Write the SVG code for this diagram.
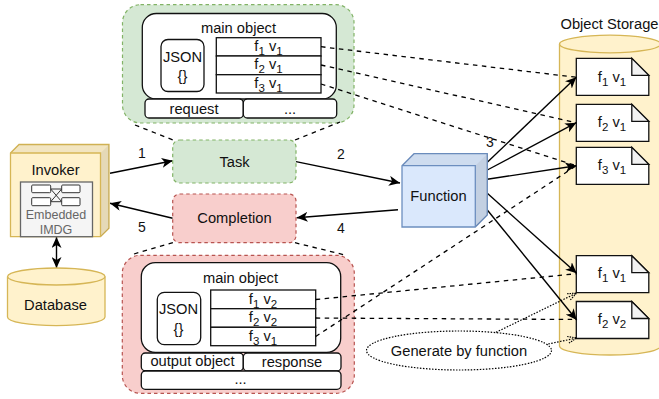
<svg xmlns="http://www.w3.org/2000/svg" width="659" height="399" viewBox="0 0 659 399">
<style>
text{font-family:"Liberation Sans",Arial,sans-serif;font-size:14.700px;fill:#111;text-anchor:middle}
.s{font-size:11.500px}
.w{fill:#fff;stroke:#111;stroke-width:1.300}
.g{fill:#d5e8d4;stroke:#82b366;stroke-width:1.200;stroke-dasharray:3.500 3}
.r{fill:#f8cecc;stroke:#b85450;stroke-width:1.200;stroke-dasharray:3.500 3}
.y{fill:#fff2cc;stroke:#d6b656;stroke-width:1.300}
.b{fill:#dae8fc;stroke:#6c8ebf;stroke-width:1.300}
.a{fill:none;stroke:#000;stroke-width:1.400;marker-end:url(#arrow)}
.d{fill:none;stroke:#000;stroke-width:1.300;stroke-dasharray:4.500 4.500}
.o{fill:none;stroke:#000;stroke-width:1.200;stroke-dasharray:1.500 1.500}
.f{fill:#000;fill-opacity:.05}
.k{fill:#000;fill-opacity:.1}
.c{fill:#f2f2f2;stroke:#111;stroke-width:1.300}
.i{fill:#fff;stroke:#333;stroke-width:1}
.n{font-size:14px}
.e{font-size:12.500px;fill:#666}
</style>
<defs>
<marker id="arrow" viewBox="0 0 12 10" refX="11" refY="5" markerWidth="12" markerHeight="10" markerUnits="userSpaceOnUse" orient="auto-start-reverse"><path d="M0,0L11,5L0,10L3,5Z" fill="#000"/></marker>
<marker id="open" viewBox="0 0 10 10" refX="9" refY="5" markerWidth="10" markerHeight="10" markerUnits="userSpaceOnUse" orient="auto"><path d="M0,1.500L9,5L0,8.500" fill="none" stroke="#000" stroke-width="1.100" stroke-dasharray="1.500 1"/></marker>
<path id="doc" d="M0,0H55.500L72.500,17V37H0Z"/>
</defs>
<g id="object-storage">
<path class="y" d="M559.500,44V346C559.500,351 582,355 610,355C638,355 660.500,351 660.500,346V44"/>
<ellipse class="y" cx="610" cy="44" rx="50.500" ry="8.800"/>
<text x="609.500" y="28.500">Object Storage</text>
</g>
<g id="panel-task">
<rect class="g" x="122.500" y="4.700" width="231.500" height="118.300" rx="18"/>
<rect class="w" x="142.300" y="13.500" width="194" height="85.500" rx="14"/>
<text x="238.500" y="33">main object</text>
<rect class="w" x="161" y="39.500" width="43" height="52" rx="7"/>
<text x="182.500" y="61.500">JSON</text><text x="182.500" y="80.500">{}</text>
<rect class="w" x="216.300" y="37.700" width="104.700" height="18.300"/>
<rect class="w" x="216.300" y="56" width="104.700" height="18.700"/>
<rect class="w" x="216.300" y="74.700" width="104.700" height="18.300"/>
<text x="268.500" y="50.500">f<tspan class="s" dy="4">1</tspan><tspan dy="-4"> v</tspan><tspan class="s" dy="4">1</tspan></text>
<text x="268.500" y="69">f<tspan class="s" dy="4">2</tspan><tspan dy="-4"> v</tspan><tspan class="s" dy="4">1</tspan></text>
<text x="268.500" y="87.500">f<tspan class="s" dy="4">3</tspan><tspan dy="-4"> v</tspan><tspan class="s" dy="4">1</tspan></text>
<rect class="w" x="145" y="99" width="98.300" height="19" rx="4"/>
<rect class="w" x="243.300" y="99" width="93.400" height="19" rx="4"/>
<text x="194" y="114">request</text><text x="290" y="114">...</text>
</g>
<g id="panel-completion">
<rect class="r" x="122.300" y="255.300" width="232" height="138" rx="18"/>
<rect class="w" x="141.300" y="262.700" width="199.400" height="89.600" rx="14"/>
<text x="240.500" y="282.500">main object</text>
<rect class="w" x="157.300" y="292.300" width="43.400" height="52.400" rx="7"/>
<text x="178.500" y="314">JSON</text><text x="178.500" y="333.500">{}</text>
<rect class="w" x="210.700" y="290" width="105" height="18.700"/>
<rect class="w" x="210.700" y="308.700" width="105" height="18.600"/>
<rect class="w" x="210.700" y="327.300" width="105" height="18.400"/>
<text x="263" y="303.500">f<tspan class="s" dy="4">1</tspan><tspan dy="-4"> v</tspan><tspan class="s" dy="4">2</tspan></text>
<text x="263" y="322">f<tspan class="s" dy="4">2</tspan><tspan dy="-4"> v</tspan><tspan class="s" dy="4">2</tspan></text>
<text x="263" y="340.500">f<tspan class="s" dy="4">3</tspan><tspan dy="-4"> v</tspan><tspan class="s" dy="4">1</tspan></text>
<rect class="w" x="141.300" y="353" width="102" height="17.700" rx="4"/>
<rect class="w" x="243.300" y="353" width="97.700" height="18" rx="4"/>
<rect class="w" x="141.300" y="371" width="199.700" height="18.300" rx="4"/>
<text x="192.500" y="366">output object</text><text x="292" y="367">response</text><text x="240.500" y="384">...</text>
</g>
<g id="doc-1"><use href="#doc" x="576.300" y="58.300" class="w"/><path class="c" d="M631.800,58.300V75.300H648.800Z"/><text x="612" y="81.500">f<tspan class="s" dy="4">1</tspan><tspan dy="-4"> v</tspan><tspan class="s" dy="4">1</tspan></text></g>
<g id="doc-2"><use href="#doc" x="576.300" y="104.300" class="w"/><path class="c" d="M631.800,104.300V121.300H648.800Z"/><text x="612" y="127">f<tspan class="s" dy="4">2</tspan><tspan dy="-4"> v</tspan><tspan class="s" dy="4">1</tspan></text></g>
<g id="doc-3"><use href="#doc" x="576.300" y="147.300" class="w"/><path class="c" d="M631.800,147.300V164.300H648.800Z"/><text x="612" y="170">f<tspan class="s" dy="4">3</tspan><tspan dy="-4"> v</tspan><tspan class="s" dy="4">1</tspan></text></g>
<g id="doc-4"><use href="#doc" x="576.300" y="255.700" class="w"/><path class="c" d="M631.800,255.700V272.700H648.800Z"/><text x="612" y="278">f<tspan class="s" dy="4">1</tspan><tspan dy="-4"> v</tspan><tspan class="s" dy="4">1</tspan></text></g>
<g id="doc-5"><use href="#doc" x="576.300" y="301.500" class="w"/><path class="c" d="M631.800,301.500V318.500H648.800Z"/><text x="612" y="323.500">f<tspan class="s" dy="4">2</tspan><tspan dy="-4"> v</tspan><tspan class="s" dy="4">2</tspan></text></g>
<g id="connectors">
<path class="d" d="M135,125L173,140M295,140L340,122M134,254L173,242.700M295,242.700L345,255"/>
<path class="d" d="M321,46.700L576.300,77.300M321,65L576.300,122.700M321,84L576.300,165.700"/>
<path class="d" d="M315.700,299.500L576.700,273.700M315.700,318L576.700,319.500M315.700,336.500L576.300,165.700"/>
<path class="a" d="M110,173.300L172.700,160.700"/>
<path class="a" d="M172.700,218.300L110,203.300"/>
<path class="a" d="M296,161.600L400,183"/>
<path class="a" d="M398,209.700L296.700,217.700"/>
<path class="a" d="M56.500,237L56.500,268" style="marker-start:url(#arrow)"/>
<path class="a" d="M487.300,162.300L576.300,77.300"/>
<path class="a" d="M487.300,170L576.300,122.700"/>
<path class="a" d="M487.300,179.300L576.300,165.700"/>
<path class="a" d="M487.300,193.300L576.700,273.300"/>
<path class="a" d="M487.300,210L576.700,320"/>
<path class="o" style="marker-end:url(#open)" d="M496,332.300L576.700,293"/>
<path class="o" style="marker-end:url(#open)" d="M548.300,344L576.700,338"/>
</g>
<g id="invoker">
<path class="y" d="M10.500,153L19,144.500H109V228.200L100.500,236.700H10.500Z"/>
<path class="f" d="M10.500,153L19,144.500H109L100.500,153Z"/>
<path class="k" d="M100.500,153L109,144.500V228.200L100.500,236.700Z"/>
<path d="M10.500,153H100.500V236.700" fill="none" stroke="#d6b656" stroke-width="1.300"/>
<text x="55.500" y="175">Invoker</text>
<rect x="20.500" y="182" width="72" height="54.700" fill="#f5f5f5" stroke="#666" stroke-width="1.300"/>
<path d="M50.700,189H61.700L50.700,201.700H61.700M50.700,189L61.700,201.700" fill="none" stroke="#333" stroke-width="1"/>
<rect class="i" x="31.700" y="185" width="19" height="7.700" rx="1"/>
<rect class="i" x="61.700" y="185" width="18.300" height="7.700" rx="1"/>
<rect class="i" x="31.700" y="197.700" width="19" height="8" rx="1"/>
<rect class="i" x="61.700" y="197.700" width="18.300" height="8" rx="1"/>
<text x="56" y="218.500" class="e">Embedded</text>
<text x="56" y="234" class="e">IMDG</text>
</g>
<g id="database">
<path class="y" d="M7.500,276.500V317C7.500,322 29,325.700 56.300,325.700C83.500,325.700 105,322 105,317V276.500"/>
<ellipse class="y" cx="56.300" cy="276.500" rx="48.700" ry="8.500"/>
<text x="55.500" y="309.500">Database</text>
</g>
<g id="task"><rect class="g" x="172.700" y="140" width="123.300" height="43" rx="7"/><text x="234.500" y="166.500">Task</text></g>
<g id="completion"><rect class="r" x="172.700" y="194" width="123.300" height="48.700" rx="7"/><text x="234.500" y="223">Completion</text></g>
<g id="function">
<path class="b" d="M402,165.700L414,153.700H487.300V215L475.300,227H402Z"/>
<path class="f" d="M402,165.700L414,153.700H487.300L475.300,165.700Z"/>
<path class="k" d="M475.300,165.700L487.300,153.700V215L475.300,227Z"/>
<path d="M402,165.700H475.300V227" fill="none" stroke="#6c8ebf" stroke-width="1.300"/>
<text x="438.500" y="201">Function</text>
</g>
<g id="generate"><ellipse class="o" cx="459" cy="350.500" rx="92.500" ry="19.500"/><text x="459" y="355.500">Generate by function</text></g>
<g id="labels">
<text x="142" y="158" class="n">1</text>
<text x="341" y="159" class="n">2</text>
<text x="490" y="147" class="n">3</text>
<text x="341" y="233" class="n">4</text>
<text x="142" y="232" class="n">5</text>
</g>
</svg>
